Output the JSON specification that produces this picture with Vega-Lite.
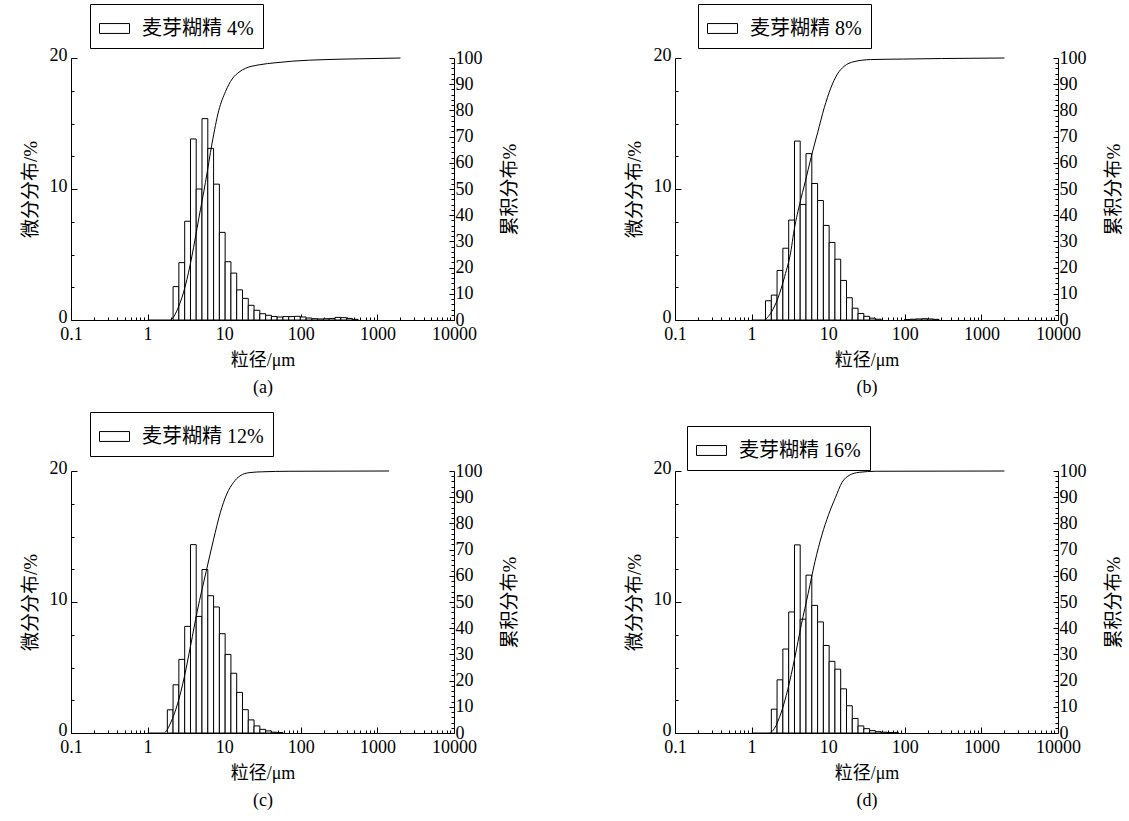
{
  "$schema": "https://vega.github.io/schema/vega-lite/v6.json",
  "padding": {"left": 21, "top": 3, "right": 2, "bottom": 2},
  "background": "white",
  "datasets": {
    "bars": [
      {"panel": "麦芽糊精 4%", "lo": 2.15, "hi": 2.56, "freq": 2.55},
      {"panel": "麦芽糊精 4%", "lo": 2.56, "hi": 3.05, "freq": 4.38},
      {"panel": "麦芽糊精 4%", "lo": 3.05, "hi": 3.63, "freq": 7.54},
      {"panel": "麦芽糊精 4%", "lo": 3.63, "hi": 4.31, "freq": 13.82},
      {"panel": "麦芽糊精 4%", "lo": 4.31, "hi": 5.13, "freq": 10.0},
      {"panel": "麦芽糊精 4%", "lo": 5.13, "hi": 6.11, "freq": 15.37},
      {"panel": "麦芽糊精 4%", "lo": 6.11, "hi": 7.27, "freq": 13.1},
      {"panel": "麦芽糊精 4%", "lo": 7.27, "hi": 8.65, "freq": 10.37},
      {"panel": "麦芽糊精 4%", "lo": 8.65, "hi": 10.29, "freq": 6.69},
      {"panel": "麦芽糊精 4%", "lo": 10.29, "hi": 12.24, "freq": 4.45},
      {"panel": "麦芽糊精 4%", "lo": 12.24, "hi": 14.56, "freq": 3.58},
      {"panel": "麦芽糊精 4%", "lo": 14.56, "hi": 17.33, "freq": 2.3},
      {"panel": "麦芽糊精 4%", "lo": 17.33, "hi": 20.62, "freq": 1.65},
      {"panel": "麦芽糊精 4%", "lo": 20.62, "hi": 24.53, "freq": 1.12},
      {"panel": "麦芽糊精 4%", "lo": 24.53, "hi": 29.19, "freq": 0.74},
      {"panel": "麦芽糊精 4%", "lo": 29.19, "hi": 34.73, "freq": 0.48},
      {"panel": "麦芽糊精 4%", "lo": 34.73, "hi": 41.32, "freq": 0.36},
      {"panel": "麦芽糊精 4%", "lo": 41.32, "hi": 49.17, "freq": 0.27},
      {"panel": "麦芽糊精 4%", "lo": 49.17, "hi": 58.5, "freq": 0.23},
      {"panel": "麦芽糊精 4%", "lo": 58.5, "hi": 69.61, "freq": 0.26},
      {"panel": "麦芽糊精 4%", "lo": 69.61, "hi": 82.82, "freq": 0.26},
      {"panel": "麦芽糊精 4%", "lo": 82.82, "hi": 98.55, "freq": 0.28},
      {"panel": "麦芽糊精 4%", "lo": 98.55, "hi": 117.3, "freq": 0.23},
      {"panel": "麦芽糊精 4%", "lo": 117.3, "hi": 139.6, "freq": 0.15},
      {"panel": "麦芽糊精 4%", "lo": 139.6, "hi": 166.1, "freq": 0.1},
      {"panel": "麦芽糊精 4%", "lo": 166.1, "hi": 197.6, "freq": 0.08},
      {"panel": "麦芽糊精 4%", "lo": 197.6, "hi": 235.1, "freq": 0.1},
      {"panel": "麦芽糊精 4%", "lo": 235.1, "hi": 279.8, "freq": 0.12},
      {"panel": "麦芽糊精 4%", "lo": 279.8, "hi": 332.9, "freq": 0.2},
      {"panel": "麦芽糊精 4%", "lo": 332.9, "hi": 396.1, "freq": 0.18},
      {"panel": "麦芽糊精 4%", "lo": 396.1, "hi": 471.3, "freq": 0.12},
      {"panel": "麦芽糊精 4%", "lo": 471.3, "hi": 560.8, "freq": 0.05},

      {"panel": "麦芽糊精 8%", "lo": 1.52, "hi": 1.81, "freq": 1.47},
      {"panel": "麦芽糊精 8%", "lo": 1.81, "hi": 2.15, "freq": 1.9},
      {"panel": "麦芽糊精 8%", "lo": 2.15, "hi": 2.56, "freq": 3.78},
      {"panel": "麦芽糊精 8%", "lo": 2.56, "hi": 3.05, "freq": 5.48},
      {"panel": "麦芽糊精 8%", "lo": 3.05, "hi": 3.63, "freq": 7.63},
      {"panel": "麦芽糊精 8%", "lo": 3.63, "hi": 4.31, "freq": 13.66},
      {"panel": "麦芽糊精 8%", "lo": 4.31, "hi": 5.13, "freq": 8.82},
      {"panel": "麦芽糊精 8%", "lo": 5.13, "hi": 6.11, "freq": 12.7},
      {"panel": "麦芽糊精 8%", "lo": 6.11, "hi": 7.27, "freq": 10.42},
      {"panel": "麦芽糊精 8%", "lo": 7.27, "hi": 8.65, "freq": 9.12},
      {"panel": "麦芽糊精 8%", "lo": 8.65, "hi": 10.29, "freq": 7.22},
      {"panel": "麦芽糊精 8%", "lo": 10.29, "hi": 12.24, "freq": 5.92},
      {"panel": "麦芽糊精 8%", "lo": 12.24, "hi": 14.56, "freq": 4.64},
      {"panel": "麦芽糊精 8%", "lo": 14.56, "hi": 17.33, "freq": 3.02},
      {"panel": "麦芽糊精 8%", "lo": 17.33, "hi": 20.62, "freq": 1.7},
      {"panel": "麦芽糊精 8%", "lo": 20.62, "hi": 24.53, "freq": 0.9},
      {"panel": "麦芽糊精 8%", "lo": 24.53, "hi": 29.19, "freq": 0.5},
      {"panel": "麦芽糊精 8%", "lo": 29.19, "hi": 34.73, "freq": 0.28},
      {"panel": "麦芽糊精 8%", "lo": 34.73, "hi": 41.32, "freq": 0.14},
      {"panel": "麦芽糊精 8%", "lo": 41.32, "hi": 49.17, "freq": 0.06},
      {"panel": "麦芽糊精 8%", "lo": 98.55, "hi": 117.3, "freq": 0.04},
      {"panel": "麦芽糊精 8%", "lo": 117.3, "hi": 139.6, "freq": 0.06},
      {"panel": "麦芽糊精 8%", "lo": 139.6, "hi": 166.1, "freq": 0.08},
      {"panel": "麦芽糊精 8%", "lo": 166.1, "hi": 197.6, "freq": 0.1},
      {"panel": "麦芽糊精 8%", "lo": 197.6, "hi": 235.1, "freq": 0.08},
      {"panel": "麦芽糊精 8%", "lo": 235.1, "hi": 279.8, "freq": 0.05},

      {"panel": "麦芽糊精 12%", "lo": 1.81, "hi": 2.15, "freq": 1.77},
      {"panel": "麦芽糊精 12%", "lo": 2.15, "hi": 2.56, "freq": 3.68},
      {"panel": "麦芽糊精 12%", "lo": 2.56, "hi": 3.05, "freq": 5.62},
      {"panel": "麦芽糊精 12%", "lo": 3.05, "hi": 3.63, "freq": 8.14},
      {"panel": "麦芽糊精 12%", "lo": 3.63, "hi": 4.31, "freq": 14.38},
      {"panel": "麦芽糊精 12%", "lo": 4.31, "hi": 5.13, "freq": 8.9},
      {"panel": "麦芽糊精 12%", "lo": 5.13, "hi": 6.11, "freq": 12.48},
      {"panel": "麦芽糊精 12%", "lo": 6.11, "hi": 7.27, "freq": 10.48},
      {"panel": "麦芽糊精 12%", "lo": 7.27, "hi": 8.65, "freq": 9.62},
      {"panel": "麦芽糊精 12%", "lo": 8.65, "hi": 10.29, "freq": 7.58},
      {"panel": "麦芽糊精 12%", "lo": 10.29, "hi": 12.24, "freq": 6.0},
      {"panel": "麦芽糊精 12%", "lo": 12.24, "hi": 14.56, "freq": 4.56},
      {"panel": "麦芽糊精 12%", "lo": 14.56, "hi": 17.33, "freq": 3.1},
      {"panel": "麦芽糊精 12%", "lo": 17.33, "hi": 20.62, "freq": 1.78},
      {"panel": "麦芽糊精 12%", "lo": 20.62, "hi": 24.53, "freq": 1.0},
      {"panel": "麦芽糊精 12%", "lo": 24.53, "hi": 29.19, "freq": 0.54},
      {"panel": "麦芽糊精 12%", "lo": 29.19, "hi": 34.73, "freq": 0.28},
      {"panel": "麦芽糊精 12%", "lo": 34.73, "hi": 41.32, "freq": 0.16},
      {"panel": "麦芽糊精 12%", "lo": 41.32, "hi": 49.17, "freq": 0.06},
      {"panel": "麦芽糊精 12%", "lo": 49.17, "hi": 58.5, "freq": 0.03},

      {"panel": "麦芽糊精 16%", "lo": 1.81, "hi": 2.15, "freq": 1.82},
      {"panel": "麦芽糊精 16%", "lo": 2.15, "hi": 2.56, "freq": 4.06},
      {"panel": "麦芽糊精 16%", "lo": 2.56, "hi": 3.05, "freq": 6.41},
      {"panel": "麦芽糊精 16%", "lo": 3.05, "hi": 3.63, "freq": 9.24},
      {"panel": "麦芽糊精 16%", "lo": 3.63, "hi": 4.31, "freq": 14.36},
      {"panel": "麦芽糊精 16%", "lo": 4.31, "hi": 5.13, "freq": 8.69},
      {"panel": "麦芽糊精 16%", "lo": 5.13, "hi": 6.11, "freq": 12.05},
      {"panel": "麦芽糊精 16%", "lo": 6.11, "hi": 7.27, "freq": 9.74},
      {"panel": "麦芽糊精 16%", "lo": 7.27, "hi": 8.65, "freq": 8.48},
      {"panel": "麦芽糊精 16%", "lo": 8.65, "hi": 10.29, "freq": 6.68},
      {"panel": "麦芽糊精 16%", "lo": 10.29, "hi": 12.24, "freq": 5.47},
      {"panel": "麦芽糊精 16%", "lo": 12.24, "hi": 14.56, "freq": 4.87},
      {"panel": "麦芽糊精 16%", "lo": 14.56, "hi": 17.33, "freq": 3.37},
      {"panel": "麦芽糊精 16%", "lo": 17.33, "hi": 20.62, "freq": 2.08},
      {"panel": "麦芽糊精 16%", "lo": 20.62, "hi": 24.53, "freq": 1.11},
      {"panel": "麦芽糊精 16%", "lo": 24.53, "hi": 29.19, "freq": 0.54},
      {"panel": "麦芽糊精 16%", "lo": 29.19, "hi": 34.73, "freq": 0.33},
      {"panel": "麦芽糊精 16%", "lo": 34.73, "hi": 41.32, "freq": 0.18},
      {"panel": "麦芽糊精 16%", "lo": 41.32, "hi": 49.17, "freq": 0.1},
      {"panel": "麦芽糊精 16%", "lo": 49.17, "hi": 58.5, "freq": 0.06},
      {"panel": "麦芽糊精 16%", "lo": 58.5, "hi": 69.61, "freq": 0.04},
      {"panel": "麦芽糊精 16%", "lo": 69.61, "hi": 82.82, "freq": 0.03}
    ],
    "cum": [
      {"panel": "麦芽糊精 4%", "size": 1, "cum": 0},
      {"panel": "麦芽糊精 4%", "size": 1.95, "cum": 0},
      {"panel": "麦芽糊精 4%", "size": 2.54, "cum": 5.1},
      {"panel": "麦芽糊精 4%", "size": 3.1, "cum": 12.9},
      {"panel": "麦芽糊精 4%", "size": 3.79, "cum": 24.4},
      {"panel": "麦芽糊精 4%", "size": 4.65, "cum": 38.6},
      {"panel": "麦芽糊精 4%", "size": 5.69, "cum": 52.5},
      {"panel": "麦芽糊精 4%", "size": 6.95, "cum": 67.5},
      {"panel": "麦芽糊精 4%", "size": 8.5, "cum": 80},
      {"panel": "麦芽糊精 4%", "size": 10.4, "cum": 87.2},
      {"panel": "麦芽糊精 4%", "size": 12.7, "cum": 92},
      {"panel": "麦芽糊精 4%", "size": 15.6, "cum": 94.6},
      {"panel": "麦芽糊精 4%", "size": 19.1, "cum": 96.1},
      {"panel": "麦芽糊精 4%", "size": 28.6, "cum": 97.4},
      {"panel": "麦芽糊精 4%", "size": 47.3, "cum": 98.2},
      {"panel": "麦芽糊精 4%", "size": 78.5, "cum": 98.8},
      {"panel": "麦芽糊精 4%", "size": 214, "cum": 99.4},
      {"panel": "麦芽糊精 4%", "size": 589, "cum": 99.7},
      {"panel": "麦芽糊精 4%", "size": 2000, "cum": 100},

      {"panel": "麦芽糊精 8%", "size": 1, "cum": 0},
      {"panel": "麦芽糊精 8%", "size": 1.42, "cum": 0},
      {"panel": "麦芽糊精 8%", "size": 1.81, "cum": 3},
      {"panel": "麦芽糊精 8%", "size": 2.21, "cum": 8.4},
      {"panel": "麦芽糊精 8%", "size": 2.7, "cum": 16.6},
      {"panel": "麦芽糊精 8%", "size": 3.29, "cum": 27},
      {"panel": "麦芽糊精 8%", "size": 3.53, "cum": 33},
      {"panel": "麦芽糊精 8%", "size": 4.22, "cum": 44},
      {"panel": "麦芽糊精 8%", "size": 5.04, "cum": 53},
      {"panel": "麦芽糊精 8%", "size": 5.97, "cum": 62},
      {"panel": "麦芽糊精 8%", "size": 7.28, "cum": 71.5},
      {"panel": "麦芽糊精 8%", "size": 8.88, "cum": 81},
      {"panel": "麦芽糊精 8%", "size": 10.8, "cum": 88.5},
      {"panel": "麦芽糊精 8%", "size": 13.2, "cum": 93.9},
      {"panel": "麦芽糊精 8%", "size": 16.1, "cum": 96.8},
      {"panel": "麦芽糊精 8%", "size": 21.7, "cum": 98.6},
      {"panel": "麦芽糊精 8%", "size": 35.6, "cum": 99.4},
      {"panel": "麦芽糊精 8%", "size": 96, "cum": 99.6},
      {"panel": "麦芽糊精 8%", "size": 300, "cum": 99.8},
      {"panel": "麦芽糊精 8%", "size": 2000, "cum": 100},

      {"panel": "麦芽糊精 12%", "size": 1, "cum": 0},
      {"panel": "麦芽糊精 12%", "size": 1.63, "cum": 0},
      {"panel": "麦芽糊精 12%", "size": 2.02, "cum": 4.2},
      {"panel": "麦芽糊精 12%", "size": 2.46, "cum": 11.1},
      {"panel": "麦芽糊精 12%", "size": 3.0, "cum": 21.1},
      {"panel": "麦芽糊精 12%", "size": 3.65, "cum": 33.5},
      {"panel": "麦芽糊精 12%", "size": 4.45, "cum": 46.5},
      {"panel": "麦芽糊精 12%", "size": 5.81, "cum": 61.6},
      {"panel": "麦芽糊精 12%", "size": 7.28, "cum": 74},
      {"panel": "麦芽糊精 12%", "size": 8.87, "cum": 84},
      {"panel": "麦芽糊精 12%", "size": 10.8, "cum": 91.2},
      {"panel": "麦芽糊精 12%", "size": 13.2, "cum": 95.6},
      {"panel": "麦芽糊精 12%", "size": 16.0, "cum": 98.1},
      {"panel": "麦芽糊精 12%", "size": 21.6, "cum": 99.4},
      {"panel": "麦芽糊精 12%", "size": 31.7, "cum": 99.7},
      {"panel": "麦芽糊精 12%", "size": 70, "cum": 99.9},
      {"panel": "麦芽糊精 12%", "size": 1420, "cum": 100},

      {"panel": "麦芽糊精 16%", "size": 1, "cum": 0},
      {"panel": "麦芽糊精 16%", "size": 1.69, "cum": 0},
      {"panel": "麦芽糊精 16%", "size": 1.98, "cum": 1.7},
      {"panel": "麦芽糊精 16%", "size": 2.42, "cum": 7.6},
      {"panel": "麦芽糊精 16%", "size": 2.97, "cum": 16.7},
      {"panel": "麦芽糊精 16%", "size": 3.65, "cum": 28.5},
      {"panel": "麦芽糊精 16%", "size": 4.47, "cum": 41.5},
      {"panel": "麦芽糊精 16%", "size": 5.48, "cum": 53.3},
      {"panel": "麦芽糊精 16%", "size": 6.73, "cum": 65.5},
      {"panel": "麦芽糊精 16%", "size": 8.26, "cum": 75.5},
      {"panel": "麦芽糊精 16%", "size": 10.1, "cum": 83.3},
      {"panel": "麦芽糊精 16%", "size": 12.4, "cum": 89.8},
      {"panel": "麦芽糊精 16%", "size": 15.2, "cum": 95.7},
      {"panel": "麦芽糊精 16%", "size": 18.7, "cum": 98.3},
      {"panel": "麦芽糊精 16%", "size": 25.4, "cum": 99.5},
      {"panel": "麦芽糊精 16%", "size": 42.3, "cum": 99.9},
      {"panel": "麦芽糊精 16%", "size": 2000, "cum": 100}
    ]
  },
  "columns": 2,
  "spacing": {"column": 106, "row": 15},
  "resolve": {"scale": {"x": "independent", "y": "independent", "fill": "independent"}, "legend": {"fill": "independent"}},
  "concat": [
    {
      "width": 383, "height": 262,
      "layer": [
        {
          "data": {"name": "bars"},
          "transform": [{"filter": "datum.panel == '麦芽糊精 4%'"}],
          "mark": {"type": "bar", "stroke": "black", "strokeWidth": 1},
          "encoding": {
            "x": {"field": "lo", "type": "quantitative", "scale": {"type": "log", "domain": [0.1, 10000]},
              "axis": {"title": ["粒径/μm", "(a)"], "values": [0.1,0.2,0.3,0.4,0.5,0.6,0.7,0.8,0.9,1,2,3,4,5,6,7,8,9,10,20,30,40,50,60,70,80,90,100,200,300,400,500,600,700,800,900,1000,2000,3000,4000,5000,6000,7000,8000,9000,10000],
                "labelExpr": "abs(log(datum.value)/LN10 - round(log(datum.value)/LN10)) < 0.0001 ? format(datum.value, '') : ''",
                "tickSize": {"condition": {"test": "abs(log(datum.value)/LN10 - round(log(datum.value)/LN10)) < 0.0001", "value": -6}, "value": -3},
                "labelOverlap": false, "labelPadding": 11, "titlePadding": 5}},
            "x2": {"field": "hi"},
            "y": {"field": "freq", "type": "quantitative", "scale": {"domain": [0, 20]},
              "axis": {"title": "微分分布/%", "orient": "left", "values": [0,2.5,5,7.5,10,12.5,15,17.5,20],
                "labelExpr": "datum.value % 10 == 0 ? format(datum.value, 'd') : ''",
                "tickSize": {"condition": {"test": "datum.value % 10 == 0", "value": -6}, "value": -3},
                "labelPadding": 10, "labelOffset": -3, "titlePadding": 9}},
            "y2": {"datum": 0},
            "fill": {"field": "panel", "type": "nominal", "scale": {"range": ["white"]},
              "legend": {"title": null, "orient": "none", "legendX": 19, "legendY": -54}}
          }
        },
        {
          "data": {"name": "cum"},
          "transform": [{"filter": "datum.panel == '麦芽糊精 4%'"}],
          "mark": {"type": "line", "color": "black", "strokeWidth": 1, "interpolate": "monotone"},
          "encoding": {
            "x": {"field": "size", "type": "quantitative"},
            "y": {"field": "cum", "type": "quantitative", "scale": {"domain": [0, 100]},
              "axis": {"title": "累积分布%", "orient": "right", "titleAngle": 270, "values": [0,2,4,6,8,10,12,14,16,18,20,22,24,26,28,30,32,34,36,38,40,42,44,46,48,50,52,54,56,58,60,62,64,66,68,70,72,74,76,78,80,82,84,86,88,90,92,94,96,98,100],
                "labelExpr": "datum.value % 10 == 0 ? format(datum.value, 'd') : ''",
                "tickSize": {"condition": {"test": "datum.value % 10 == 0", "value": -5}, "value": -3},
                "labelPadding": 6, "titlePadding": 37}}
          }
        }
      ],
      "resolve": {"scale": {"y": "independent"}}
    },
    {
      "width": 383, "height": 262,
      "layer": [
        {
          "data": {"name": "bars"},
          "transform": [{"filter": "datum.panel == '麦芽糊精 8%'"}],
          "mark": {"type": "bar", "stroke": "black", "strokeWidth": 1},
          "encoding": {
            "x": {"field": "lo", "type": "quantitative", "scale": {"type": "log", "domain": [0.1, 10000]},
              "axis": {"title": ["粒径/μm", "(b)"], "values": [0.1,0.2,0.3,0.4,0.5,0.6,0.7,0.8,0.9,1,2,3,4,5,6,7,8,9,10,20,30,40,50,60,70,80,90,100,200,300,400,500,600,700,800,900,1000,2000,3000,4000,5000,6000,7000,8000,9000,10000],
                "labelExpr": "abs(log(datum.value)/LN10 - round(log(datum.value)/LN10)) < 0.0001 ? format(datum.value, '') : ''",
                "tickSize": {"condition": {"test": "abs(log(datum.value)/LN10 - round(log(datum.value)/LN10)) < 0.0001", "value": -6}, "value": -3},
                "labelOverlap": false, "labelPadding": 11, "titlePadding": 5}},
            "x2": {"field": "hi"},
            "y": {"field": "freq", "type": "quantitative", "scale": {"domain": [0, 20]},
              "axis": {"title": "微分分布/%", "orient": "left", "values": [0,2.5,5,7.5,10,12.5,15,17.5,20],
                "labelExpr": "datum.value % 10 == 0 ? format(datum.value, 'd') : ''",
                "tickSize": {"condition": {"test": "datum.value % 10 == 0", "value": -6}, "value": -3},
                "labelPadding": 10, "labelOffset": -3, "titlePadding": 9}},
            "y2": {"datum": 0},
            "fill": {"field": "panel", "type": "nominal", "scale": {"range": ["white"]},
              "legend": {"title": null, "orient": "none", "legendX": 23, "legendY": -54}}
          }
        },
        {
          "data": {"name": "cum"},
          "transform": [{"filter": "datum.panel == '麦芽糊精 8%'"}],
          "mark": {"type": "line", "color": "black", "strokeWidth": 1, "interpolate": "monotone"},
          "encoding": {
            "x": {"field": "size", "type": "quantitative"},
            "y": {"field": "cum", "type": "quantitative", "scale": {"domain": [0, 100]},
              "axis": {"title": "累积分布%", "orient": "right", "titleAngle": 270, "values": [0,2,4,6,8,10,12,14,16,18,20,22,24,26,28,30,32,34,36,38,40,42,44,46,48,50,52,54,56,58,60,62,64,66,68,70,72,74,76,78,80,82,84,86,88,90,92,94,96,98,100],
                "labelExpr": "datum.value % 10 == 0 ? format(datum.value, 'd') : ''",
                "tickSize": {"condition": {"test": "datum.value % 10 == 0", "value": -5}, "value": -3},
                "labelPadding": 6, "titlePadding": 37}}
          }
        }
      ],
      "resolve": {"scale": {"y": "independent"}}
    },
    {
      "width": 383, "height": 262,
      "layer": [
        {
          "data": {"name": "bars"},
          "transform": [{"filter": "datum.panel == '麦芽糊精 12%'"}],
          "mark": {"type": "bar", "stroke": "black", "strokeWidth": 1},
          "encoding": {
            "x": {"field": "lo", "type": "quantitative", "scale": {"type": "log", "domain": [0.1, 10000]},
              "axis": {"title": ["粒径/μm", "(c)"], "values": [0.1,0.2,0.3,0.4,0.5,0.6,0.7,0.8,0.9,1,2,3,4,5,6,7,8,9,10,20,30,40,50,60,70,80,90,100,200,300,400,500,600,700,800,900,1000,2000,3000,4000,5000,6000,7000,8000,9000,10000],
                "labelExpr": "abs(log(datum.value)/LN10 - round(log(datum.value)/LN10)) < 0.0001 ? format(datum.value, '') : ''",
                "tickSize": {"condition": {"test": "abs(log(datum.value)/LN10 - round(log(datum.value)/LN10)) < 0.0001", "value": -6}, "value": -3},
                "labelOverlap": false, "labelPadding": 11, "titlePadding": 5}},
            "x2": {"field": "hi"},
            "y": {"field": "freq", "type": "quantitative", "scale": {"domain": [0, 20]},
              "axis": {"title": "微分分布/%", "orient": "left", "values": [0,2.5,5,7.5,10,12.5,15,17.5,20],
                "labelExpr": "datum.value % 10 == 0 ? format(datum.value, 'd') : ''",
                "tickSize": {"condition": {"test": "datum.value % 10 == 0", "value": -6}, "value": -3},
                "labelPadding": 10, "labelOffset": -3, "titlePadding": 9}},
            "y2": {"datum": 0},
            "fill": {"field": "panel", "type": "nominal", "scale": {"range": ["white"]},
              "legend": {"title": null, "orient": "none", "legendX": 19, "legendY": -59}}
          }
        },
        {
          "data": {"name": "cum"},
          "transform": [{"filter": "datum.panel == '麦芽糊精 12%'"}],
          "mark": {"type": "line", "color": "black", "strokeWidth": 1, "interpolate": "monotone"},
          "encoding": {
            "x": {"field": "size", "type": "quantitative"},
            "y": {"field": "cum", "type": "quantitative", "scale": {"domain": [0, 100]},
              "axis": {"title": "累积分布%", "orient": "right", "titleAngle": 270, "values": [0,2,4,6,8,10,12,14,16,18,20,22,24,26,28,30,32,34,36,38,40,42,44,46,48,50,52,54,56,58,60,62,64,66,68,70,72,74,76,78,80,82,84,86,88,90,92,94,96,98,100],
                "labelExpr": "datum.value % 10 == 0 ? format(datum.value, 'd') : ''",
                "tickSize": {"condition": {"test": "datum.value % 10 == 0", "value": -5}, "value": -3},
                "labelPadding": 6, "titlePadding": 37}}
          }
        }
      ],
      "resolve": {"scale": {"y": "independent"}}
    },
    {
      "width": 383, "height": 262,
      "layer": [
        {
          "data": {"name": "bars"},
          "transform": [{"filter": "datum.panel == '麦芽糊精 16%'"}],
          "mark": {"type": "bar", "stroke": "black", "strokeWidth": 1},
          "encoding": {
            "x": {"field": "lo", "type": "quantitative", "scale": {"type": "log", "domain": [0.1, 10000]},
              "axis": {"title": ["粒径/μm", "(d)"], "values": [0.1,0.2,0.3,0.4,0.5,0.6,0.7,0.8,0.9,1,2,3,4,5,6,7,8,9,10,20,30,40,50,60,70,80,90,100,200,300,400,500,600,700,800,900,1000,2000,3000,4000,5000,6000,7000,8000,9000,10000],
                "labelExpr": "abs(log(datum.value)/LN10 - round(log(datum.value)/LN10)) < 0.0001 ? format(datum.value, '') : ''",
                "tickSize": {"condition": {"test": "abs(log(datum.value)/LN10 - round(log(datum.value)/LN10)) < 0.0001", "value": -6}, "value": -3},
                "labelOverlap": false, "labelPadding": 11, "titlePadding": 5}},
            "x2": {"field": "hi"},
            "y": {"field": "freq", "type": "quantitative", "scale": {"domain": [0, 20]},
              "axis": {"title": "微分分布/%", "orient": "left", "values": [0,2.5,5,7.5,10,12.5,15,17.5,20],
                "labelExpr": "datum.value % 10 == 0 ? format(datum.value, 'd') : ''",
                "tickSize": {"condition": {"test": "datum.value % 10 == 0", "value": -6}, "value": -3},
                "labelPadding": 10, "labelOffset": -3, "titlePadding": 9}},
            "y2": {"datum": 0},
            "fill": {"field": "panel", "type": "nominal", "scale": {"range": ["white"]},
              "legend": {"title": null, "orient": "none", "legendX": 12, "legendY": -45}}
          }
        },
        {
          "data": {"name": "cum"},
          "transform": [{"filter": "datum.panel == '麦芽糊精 16%'"}],
          "mark": {"type": "line", "color": "black", "strokeWidth": 1, "interpolate": "monotone"},
          "encoding": {
            "x": {"field": "size", "type": "quantitative"},
            "y": {"field": "cum", "type": "quantitative", "scale": {"domain": [0, 100]},
              "axis": {"title": "累积分布%", "orient": "right", "titleAngle": 270, "values": [0,2,4,6,8,10,12,14,16,18,20,22,24,26,28,30,32,34,36,38,40,42,44,46,48,50,52,54,56,58,60,62,64,66,68,70,72,74,76,78,80,82,84,86,88,90,92,94,96,98,100],
                "labelExpr": "datum.value % 10 == 0 ? format(datum.value, 'd') : ''",
                "tickSize": {"condition": {"test": "datum.value % 10 == 0", "value": -5}, "value": -3},
                "labelPadding": 6, "titlePadding": 37}}
          }
        }
      ],
      "resolve": {"scale": {"y": "independent"}}
    }
  ],
  "config": {
    "view": {"stroke": null},
    "font": "Liberation Serif, Noto Sans CJK SC",
    "axis": {
      "grid": false, "domainColor": "black", "domainWidth": 1, "tickColor": "black", "tickWidth": 1,
      "labelColor": "black", "labelFont": "Liberation Serif", "labelFontSize": 18, "labelFlush": false,
      "titleColor": "black", "titleFont": "Liberation Serif, Noto Sans CJK SC", "titleFontSize": 18, "titleFontWeight": "normal", "titleLineHeight": 27
    },
    "axisY": {"titleFontSize": 19},
    "legend": {
      "strokeColor": "black", "padding": 9, "cornerRadius": 0,
      "symbolType": "M-1,-0.33H1V0.33H-1Z", "symbolSize": 900, "symbolStrokeColor": "black", "symbolStrokeWidth": 1,
      "labelFont": "Liberation Serif, Noto Sans CJK SC", "labelFontSize": 20, "labelColor": "black", "labelOffset": 12
    }
  }
}
